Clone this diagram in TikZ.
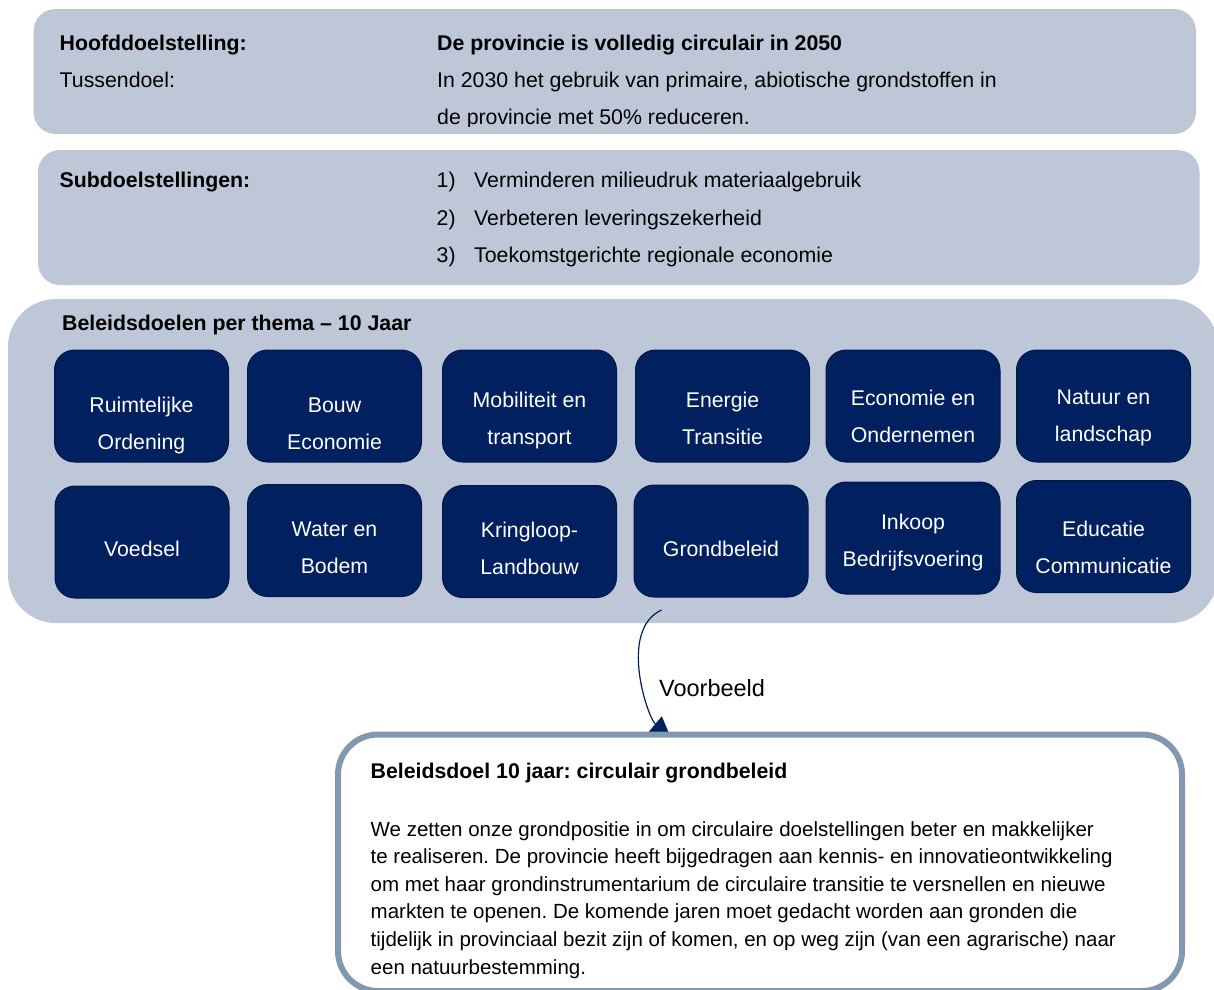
\documentclass[tikz,border=0pt]{standalone}
\usepackage{fontspec}
\setmainfont{Liberation Sans}
\usetikzlibrary{arrows.meta}
\definecolor{lightpanel}{RGB}{190,199,216}
\definecolor{navyblue}{RGB}{0,32,96}
\definecolor{slateframe}{RGB}{132,151,176}
\frenchspacing

\begin{document}
\begin{tikzpicture}[x=1pt,y=-1pt]
		\tikzstyle{panel}=[fill=lightpanel,rounded corners=22pt,inner sep=0pt]
		\tikzstyle{tile}=[fill=navyblue,draw=navyblue!75!black,line width=1pt,rounded corners=20pt,minimum width=174pt,minimum height=112pt,inner sep=0pt]
		\tikzstyle{tiletext}=[anchor=base,inner sep=0pt,text=white,font=\fontsize{21.3}{37}\selectfont]
		\tikzstyle{txt}=[anchor=base west,inner sep=0pt,font=\fontsize{21.3}{37}\selectfont]
		\tikzstyle{head}=[anchor=base west,inner sep=0pt,font=\fontsize{21.3}{37}\selectfont\bfseries]
		\useasboundingbox (0,0) rectangle (1214,989);
		\node[panel,minimum width=1162.5pt,minimum height=125pt] (hoofd) at (614.75,71.5) {};
		\node[panel,minimum width=1161.5pt,minimum height=135pt] (sub) at (618.75,217.5) {};
		\node[panel,rounded corners=48pt,minimum width=1210pt,minimum height=324pt] (thema) at (613,461) {};
		% hoofddoel
		\node[head] (hd) at (59.5,50) {Hoofddoelstelling:};
		\node[head] (hdtxt) at (437,50) {De provincie is volledig circulair in 2050};
		\node[txt] (td) at (59.5,87.3) {Tussendoel:};
		\node[txt] (tdtxt) at (437,87.3) {In 2030 het gebruik van primaire, abiotische grondstoffen in};
		\begin{scope}
			\clip (33,9) rectangle (1196,126.5);
			\node[txt] (tdtxt2) at (437,124.5) {de provincie met 50\% reduceren.};
		\end{scope}
		% subdoelen
		\node[head] (sd) at (59.5,187.5) {Subdoelstellingen:};
		\foreach \i/\t in {1/Verminderen milieudruk materiaalgebruik,2/Verbeteren leveringszekerheid,3/Toekomstgerichte regionale economie}{
			\node[txt] (nr\i) at (436.5,150+37.5*\i) {\i)};
			\node[txt] (sd\i) at (474,150+37.5*\i) {\t};
		};
		% thema's
		\node[head] (th) at (62,330) {Beleidsdoelen per thema – 10 Jaar};
		\foreach \n/\cx/\cy/\by/\la/\lb in {
			r1/141.5/406/412/Ruimtelijke/Ordening,
			r2/334.5/406/412/Bouw/Economie,
			r3/529.5/406/407/Mobiliteit en/transport,
			r4/722.5/406/407/Energie/Transitie,
			r5/913/406/405/Economie en/Ondernemen,
			r6/1103.5/406/404/Natuur en/landschap,
			v1/142/542/556/Voedsel/,
			v2/334.5/540.5/536/Water en/Bodem,
			v3/529.5/541.5/537/Kringloop-/Landbouw,
			v4/721/541/556/Grondbeleid/,
			v5/913/538/529.5/Inkoop/Bedrijfsvoering,
			v6/1103.5/536.5/536/Educatie/Communicatie}{
			\node[tile] (\n) at (\cx,\cy) {};
			\node[tiletext] (\n-a) at (\cx,\by) {\la};
			\node[tiletext] (\n-b) at (\cx,\by+37) {\lb};
		};
		% voorbeeld
		\coordinate (vbfrom) at (661.5,610);
		\coordinate (vbto) at (670.6,736.9);
		\draw[navyblue,line width=1.2pt,-{Triangle[length=20pt,width=20pt]}] (vbfrom) .. controls (618,630) and (647.6,717.6) .. (vbto);
		\node[anchor=base west,inner sep=0pt,font=\fontsize{23.5}{28}\selectfont] (vb) at (659,696) {Voorbeeld};
		\node[draw=slateframe,fill=white,line width=6pt,rounded corners=40pt,minimum width=844pt,minimum height=256.5pt,inner sep=0pt] (detail) at (760,862.75) {};
		\node[head] (dt) at (370.5,778.5) {Beleidsdoel 10 jaar: circulair grondbeleid};
		\foreach \l [count=\i] in {
			We zetten onze grondpositie in om circulaire doelstellingen beter en makkelijker,
			te realiseren. De provincie heeft bijgedragen aan kennis- en innovatieontwikkeling,
			om met haar grondinstrumentarium de circulaire transitie te versnellen en nieuwe,
			markten te openen. De komende jaren moet gedacht worden aan gronden die,
			{tijdelijk in provinciaal bezit zijn of komen, en op weg zijn (van een agrarische) naar},
			een natuurbestemming.}{
			\node[txt,font=\fontsize{20.5}{27.6}\selectfont] (dl\i) at (370.5,808.4+27.6*\i) {\l};
		};
	\end{tikzpicture}
\end{document}
